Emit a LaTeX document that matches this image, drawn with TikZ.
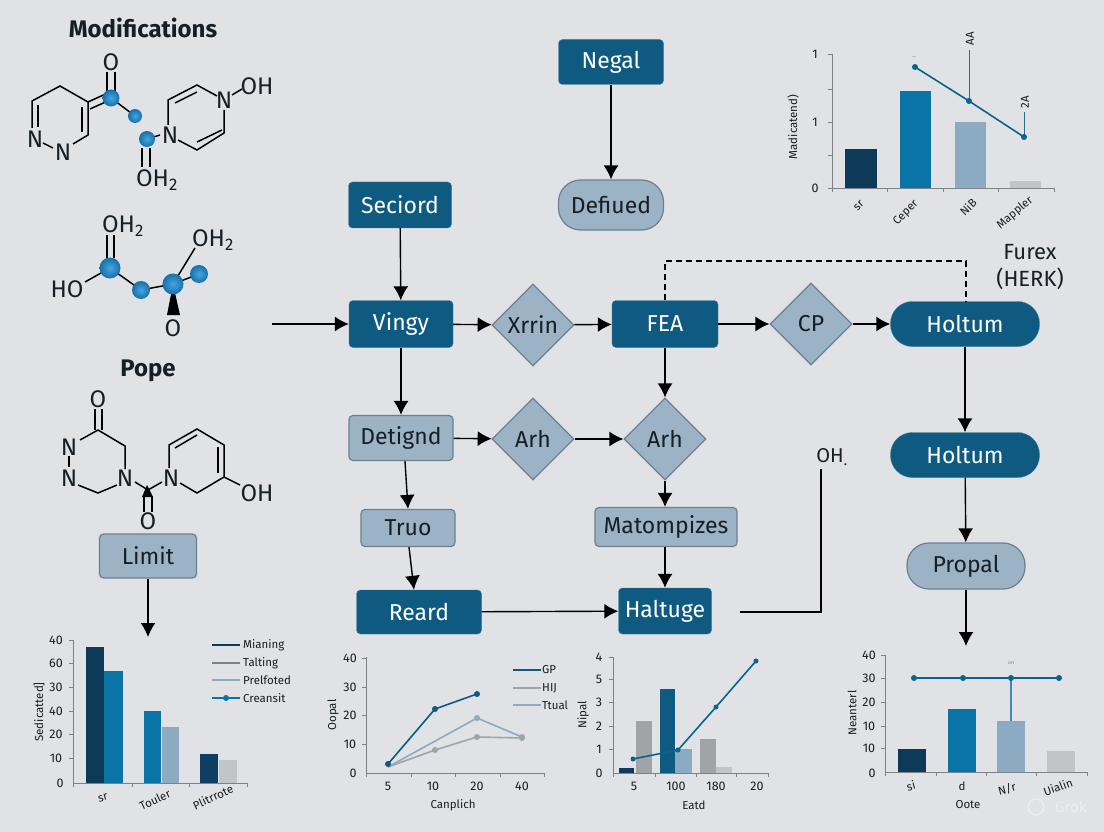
\documentclass[tikz,border=0pt]{standalone}
\usepackage{fontspec}
\setmainfont{Fira Sans}
\usetikzlibrary{arrows.meta}
\usetikzlibrary{shapes.geometric}
\definecolor{paper}{RGB}{224,226,229}
\definecolor{navy}{RGB}{14,58,90}
\definecolor{petrol}{RGB}{14,90,128}
\definecolor{barblue}{RGB}{10,116,166}
\definecolor{steel}{RGB}{156,179,198}
\definecolor{steeledge}{RGB}{108,128,146}
\definecolor{barlight}{RGB}{140,170,194}
\definecolor{bargrey}{RGB}{160,164,168}
\definecolor{barpale}{RGB}{194,197,200}
\definecolor{ink}{RGB}{22,30,38}
\definecolor{axisgrey}{RGB}{125,130,135}
\definecolor{ballblue}{RGB}{22,112,170}
\definecolor{ballbright}{RGB}{70,165,225}
\tikzset{
    darkbox/.style={draw=petrol!80!white, fill=petrol, rounded corners=4pt, inner sep=0pt, text=white, font=\fontsize{23}{27}\selectfont},
    lightbox/.style={draw=steeledge, fill=steel, line width=1.2pt, rounded corners=4pt, inner sep=0pt, text=ink, font=\fontsize{23}{27}\selectfont},
    darkpill/.style={darkbox, rounded corners=22pt},
    lightpill/.style={lightbox, rounded corners=22pt},
    choicebox/.style={diamond, aspect=1, draw=steeledge, fill=steel, line width=1.2pt, inner sep=0pt, minimum width=82pt, minimum height=82pt, text=ink, font=\fontsize{23}{27}\selectfont},
    flowarrow/.style={line width=1.4pt, black, -{Latex[length=14pt,width=15pt]}},
    flowline/.style={line width=1.4pt, black},
    headtext/.style={text=ink, font=\fontsize{24}{28}\selectfont\bfseries},
    atom/.style={text=ink, inner sep=0pt, font=\fontsize{24}{28}\selectfont},
    bond/.style={line width=1.5pt, black},
    ballatom/.style={shading=radial, inner color=ballbright, outer color=ballblue},
    axisline/.style={line width=0.8pt, axisgrey},
    ticklab/.style={text=ink, inner sep=0pt, font=\fontsize{12.5}{15}\selectfont},
    axislab/.style={text=ink, inner sep=0pt, font=\fontsize{11.5}{14}\selectfont},
    legendlab/.style={text=ink, inner sep=0pt, anchor=west, font=\fontsize{11.5}{14}\selectfont},
    dataline/.style={line width=1.6pt, petrol},
}
\begin{document}
\begin{tikzpicture}[x=1pt, y=-1pt]
    \fill[paper] (0,0) rectangle (1104,832);
    \useasboundingbox (0,0) rectangle (1104,832);

    % flow boxes
    \node[darkbox, minimum width=105pt, minimum height=45pt] (negal) at (611,62) {Negal};
    \node[lightpill, minimum width=105pt, minimum height=50pt] (defiued) at (611,205) {Defiued};
    \node[darkbox, minimum width=103pt, minimum height=46pt] (seciord) at (400,205) {Seciord};
    \node[darkbox, minimum width=104pt, minimum height=47pt] (vingy) at (401,324) {Vingy};
    \node[choicebox] (xrrin) at (533,325) {Xrrin};
    \node[darkbox, minimum width=106pt, minimum height=47pt] (fea) at (665,324) {FEA};
    \node[choicebox] (cp) at (811,324) {CP};
    \node[darkpill, minimum width=149pt, minimum height=45pt] (holtumtop) at (965,324) {Holtum};
    \node[darkpill, minimum width=149pt, minimum height=45pt] (holtumlow) at (965,455) {Holtum};
    \node[lightpill, minimum width=118pt, minimum height=46pt] (propal) at (966,566) {Propal};
    \node[lightbox, minimum width=104pt, minimum height=45pt] (detignd) at (401,438) {Detignd};
    \node[choicebox] (arhleft) at (533,439) {Arh};
    \node[choicebox] (arhright) at (665,439) {Arh};
    \node[lightbox, minimum width=94pt, minimum height=37pt] (truo) at (408,528) {Truo};
    \node[lightbox, minimum width=142pt, minimum height=39pt] (matompizes) at (666,527) {Matompizes};
    \node[darkbox, minimum width=125pt, minimum height=44pt] (reard) at (419,612) {Reard};
    \node[darkbox, minimum width=93pt, minimum height=46pt] (haltuge) at (665,611) {Haltuge};
    \node[lightbox, minimum width=97pt, minimum height=44pt] (limit) at (148,556) {Limit};

    % free ends
    \coordinate (flowin) at (272,324);
    \coordinate (propalout) at (966,646);
    \coordinate (limitout) at (148,637);
    \coordinate (haltout) at (740,612);
    \coordinate (dashleft) at (665,261);
    \coordinate (dashright) at (966,261);

    % connectors
    \draw[flowarrow] (negal) -- (defiued);
    \draw[flowarrow] (seciord) -- (vingy);
    \draw[flowarrow] (flowin) -- (vingy);
    \draw[flowarrow] (vingy) -- (xrrin);
    \draw[flowarrow] (xrrin) -- (fea);
    \draw[flowarrow] (fea) -- (cp);
    \draw[flowarrow] (cp) -- (holtumtop);
    \draw[flowarrow] (holtumtop) -- (holtumlow);
    \draw[flowarrow] (holtumlow) -- (propal);
    \draw[flowarrow] (propal) -- (propalout);
    \draw[flowarrow] (vingy) -- (detignd);
    \draw[flowarrow] (detignd) -- (arhleft);
    \draw[flowarrow] (arhleft) -- (arhright);
    \draw[flowarrow] (fea) -- (arhright);
    \draw[flowarrow] (arhright) -- (arhright |- matompizes.north);
    \draw[flowarrow] (matompizes.south -| haltuge) -- (haltuge);
    \draw[flowarrow] ([xshift=4pt]detignd.south) -- (truo.north);
    \draw[flowarrow] ([xshift=1pt]truo.south) -- ([xshift=-5pt]reard.north);
    \draw[flowarrow] (reard) -- (haltuge);
    \draw[flowarrow] (limit) -- (limitout);
    \draw[flowline, dash pattern=on 6pt off 4pt] (fea.north) -- (dashleft) -- (dashright) -- (holtumtop.north -| dashright);

    % headings
    \node[headtext] (modhead) at (143,28) {Modifications};
    \node[headtext] (popehead) at (148,371) {Pope};
    \node[text=ink, font=\fontsize{22}{26}\selectfont] (furex) at (1030,252) {Furex};
    \node[text=ink, font=\fontsize{22}{26}\selectfont] (herk) at (1030,279) {(HERK)};
    \node[text=ink, font=\fontsize{20}{24}\selectfont] (ohlabel) at (832,457) {OH\textsubscript{.}};
    \draw[flowline] (haltout) -- (821,612) -- (ohlabel.south -| 821,0);

    % molecule 1, left ring
    \draw[bond] (32,128) -- (32,101) -- (60,86) -- (88,102) -- (88,135) -- (73,144);
    \draw[bond] (38,105) -- (38,127);
    \draw[bond] (82,107) -- (82,132);
    \draw[bond] (43,143) -- (53,148);
    \draw[bond] (88,102) -- (110,92);
    \draw[bond] (90,109) -- (110,100);
    \draw[bond] (107,72) -- (107,92);
    \draw[bond] (115,72) -- (115,92);
    \draw[bond] (111,98) -- (135,116);
    \node[atom] (mna) at (35,139) {N};
    \node[atom] (mnb) at (63,152) {N};
    \node[atom] (moa) at (111,62) {O};
    % molecule 1, right ring
    \draw[bond] (147,139) -- (160,135);
    \draw[bond] (142,148) -- (142,167);
    \draw[bond] (150,148) -- (150,167);
    \draw[bond] (168,125) -- (168,100) -- (197,85) -- (217,96);
    \draw[bond] (175,103) -- (197,92);
    \draw[bond] (224,110) -- (224,133) -- (197,150) -- (178,140);
    \draw[bond] (197,142) -- (222,130);
    \draw[bond] (232,95) -- (242,89);
    \node[atom] (mnc) at (170,135) {N};
    \node[atom] (mnd) at (224,100) {N};
    \node[atom] (moh) at (257,86) {OH};
    \node[atom] (mohb) at (157,180) {OH\textsubscript{2}};
    \shade[ballatom] (111,98) circle (8.5);
    \shade[ballatom] (135,116) circle (7);
    \shade[ballatom] (147,139) circle (8);

    % molecule 2
    \draw[bond] (107,235) -- (107,258);
    \draw[bond] (114,235) -- (114,258);
    \draw[bond] (85,282) -- (110,268) -- (141,290) -- (173,284) -- (199,274);
    \draw[bond] (173,284) -- (195,248);
    \fill[black] (173,284) -- (167,315) -- (180,315) -- cycle;
    \node[atom] (sohb) at (123,226) {OH\textsubscript{2}};
    \node[atom] (sohc) at (213,240) {OH\textsubscript{2}};
    \node[atom] (sho) at (67,289) {HO};
    \node[atom] (soa) at (173,328) {O};
    \shade[ballatom] (110,268) circle (10.5);
    \shade[ballatom] (141,290) circle (9);
    \shade[ballatom] (173,284) circle (10.5);
    \shade[ballatom] (199,274) circle (9);

    % molecule 3
    \draw[bond] (95,409) -- (95,430);
    \draw[bond] (102,409) -- (102,430);
    \draw[bond] (80,440) -- (98,430) -- (125,446) -- (125,469);
    \draw[bond] (69,456) -- (69,467);
    \draw[bond] (78,485) -- (98,493) -- (117,485);
    \draw[bond] (135,482) -- (148,490) -- (162,482);
    \fill[black] (147,485) -- (142,497) -- (153,497) -- cycle;
    \draw[bond] (144,496) -- (144,512);
    \draw[bond] (152,496) -- (152,512);
    \draw[bond] (169,468) -- (169,445) -- (197,429) -- (224,445) -- (224,477) -- (197,493) -- (180,483);
    \draw[bond] (175,448) -- (197,435);
    \draw[bond] (218,447) -- (218,473);
    \draw[bond] (224,477) -- (240,485);
    \node[atom] (pob) at (98,399) {O};
    \node[atom] (pna) at (69,447) {N};
    \node[atom] (pnb) at (69,478) {N};
    \node[atom] (pnc) at (125,478) {N};
    \node[atom] (pnd) at (171,478) {N};
    \node[atom] (poh) at (257,493) {OH};
    \node[atom] (poc) at (148,521) {O};

    % top chart
    \draw[axisline] (832,54) -- (832,188) -- (1054,188);
    \draw[axisline] (828,54) -- (832,54) (828,89) -- (832,89) (828,122) -- (832,122) (828,155) -- (832,155) (828,188) -- (832,188);
    \draw[axisline] (832,188) -- (832,192) (887,188) -- (887,192) (943,188) -- (943,192) (998,188) -- (998,192) (1054,188) -- (1054,192);
    \fill[navy] (845,149) rectangle (877,188);
    \fill[barblue] (900,91) rectangle (931,188);
    \fill[barlight] (955,122) rectangle (986,188);
    \fill[barpale] (1010,181) rectangle (1041,188);
    \draw[line width=1pt, petrol!80!steel] (969,101) -- (969,50);
    \draw[line width=1pt, petrol!80!steel] (1024,137) -- (1024,112);
    \draw[dataline, barblue!85!black] (915,67) -- (969,101) -- (1024,137);
    \fill[barblue!85!black] (915,67) circle (3);
    \fill[barblue!85!black] (969,101) circle (3);
    \fill[barblue!85!black] (1024,137) circle (3);
    \node[ticklab] (tya) at (815,54) {1};
    \node[ticklab] (tyb) at (815,122) {1};
    \node[ticklab] (tyc) at (815,188) {0};
    \node[axislab, rotate=90] (tylab) at (793,127) {Madicatend)};
    \node[axislab, rotate=45] (txa) at (859,206) {sr};
    \node[axislab, rotate=45] (txb) at (906,213) {Ceper};
    \node[axislab, rotate=45] (txc) at (968,207) {NiB};
    \node[axislab, rotate=40] (txd) at (1015,213) {Mappler};
    \node[axislab, rotate=90] (taa) at (970,39) {AA};
    \node[axislab, rotate=90] (tab) at (1025,102) {2A};
    \node[text=axisgrey, inner sep=0pt, font=\fontsize{5}{6}\selectfont] (tac) at (914,58) {---};

    % bottom left chart
    \draw[axisline] (73,640) -- (73,783) -- (247,783);
    \draw[axisline] (69,640) -- (73,640) (69,663) -- (73,663) (69,687) -- (73,687) (69,711) -- (73,711) (69,734) -- (73,734) (69,758) -- (73,758);
    \draw[axisline] (73,783) -- (73,787) (132,783) -- (132,787) (189,783) -- (189,787) (247,783) -- (247,787);
    \fill[navy] (86,647) rectangle (104,783);
    \fill[barblue] (104,671) rectangle (123,783);
    \fill[barblue] (144,711) rectangle (161,783);
    \fill[barlight] (162,727) rectangle (179,783);
    \fill[navy!85!petrol] (200,754) rectangle (218,783);
    \fill[barpale] (219,760) rectangle (237,783);
    \node[ticklab] (lya) at (56,640) {40};
    \node[ticklab] (lyb) at (56,663) {60};
    \node[ticklab] (lyc) at (56,687) {30};
    \node[ticklab] (lyd) at (56,711) {40};
    \node[ticklab] (lye) at (56,734) {20};
    \node[ticklab] (lyf) at (56,758) {10};
    \node[ticklab] (lyg) at (60,783) {0};
    \node[axislab, rotate=90] (lylab) at (39,712) {Sedicatted]};
    \node[axislab, rotate=15] (lxa) at (103,798) {sr};
    \node[axislab, rotate=25] (lxb) at (155,800) {Touler};
    \node[axislab, rotate=25] (lxc) at (213,797) {Plitrrote};
    \draw[line width=1.6pt, navy] (212,645) -- (240,645);
    \draw[line width=1.6pt, axisgrey] (212,663) -- (240,663);
    \draw[line width=1.6pt, barlight] (212,680) -- (240,680);
    \draw[line width=1.2pt, barblue] (212,698) -- (240,698);
    \fill[barblue] (226,698) circle (3);
    \node[legendlab] (lla) at (243,645) {Mianing};
    \node[legendlab] (llb) at (243,663) {Talting};
    \node[legendlab] (llc) at (243,680) {Prelfoted};
    \node[legendlab] (lld) at (243,698) {Creansit};

    % line chart
    \draw[axisline] (366,657) -- (366,773) -- (544,773);
    \draw[axisline] (362,658) -- (366,658) (362,687) -- (366,687) (362,715) -- (366,715) (362,744) -- (366,744);
    \draw[axisline] (366,773) -- (366,777) (411,773) -- (411,777) (455,773) -- (455,777) (500,773) -- (500,777) (544,773) -- (544,777);
    \draw[line width=1.6pt, barlight] (388,767) -- (477,718) -- (522,737);
    \fill[barlight] (477,718) circle (3);
    \fill[barlight] (522,737) circle (3);
    \draw[line width=1.6pt, bargrey] (388,767) -- (435,750) -- (477,737) -- (522,738);
    \fill[bargrey] (435,750) circle (3);
    \fill[bargrey] (477,737) circle (3);
    \fill[bargrey] (522,738) circle (3);
    \draw[dataline] (388,764) -- (435,709) -- (477,694);
    \fill[petrol] (388,764) circle (3);
    \fill[petrol] (435,709) circle (3);
    \fill[petrol] (477,694) circle (3);
    \node[ticklab] (cya) at (350,658) {40};
    \node[ticklab] (cyb) at (350,687) {30};
    \node[ticklab] (cyc) at (350,715) {20};
    \node[ticklab] (cyd) at (350,744) {10};
    \node[ticklab] (cye) at (353,773) {0};
    \node[ticklab] (cxa) at (388,786) {5};
    \node[ticklab] (cxb) at (433,786) {10};
    \node[ticklab] (cxc) at (477,786) {20};
    \node[ticklab] (cxd) at (522,786) {40};
    \node[axislab] (cxlab) at (453,805) {Canplich};
    \node[axislab, rotate=90] (cylab) at (333,715) {Oopal};
    \draw[line width=1.6pt, petrol] (513,670) -- (541,670);
    \draw[line width=1.6pt, bargrey] (513,688) -- (541,688);
    \draw[line width=1.6pt, barlight] (513,705) -- (541,705);
    \node[legendlab] (cla) at (542,670) {GP};
    \node[legendlab] (clb) at (542,688) {HIJ};
    \node[legendlab] (clc) at (542,705) {Ttual};

    % mixed chart
    \draw[axisline] (613,657) -- (613,773) -- (768,773);
    \draw[axisline] (609,657) -- (613,657) (609,679) -- (613,679) (609,702) -- (613,702) (609,726) -- (613,726) (609,749) -- (613,749);
    \draw[axisline] (613,773) -- (613,777) (655,773) -- (655,777) (696,773) -- (696,777) (736,773) -- (736,777) (768,773) -- (768,777);
    \fill[navy] (619,768) rectangle (634,773);
    \fill[bargrey] (636,721) rectangle (652,773);
    \fill[petrol] (660,689) rectangle (675,773);
    \fill[barlight] (675,749) rectangle (692,773);
    \fill[bargrey] (700,739) rectangle (716,773);
    \fill[barpale] (716,767) rectangle (732,773);
    \draw[dataline, barblue!85!black] (633,759) -- (678,750) -- (716,707) -- (756,661);
    \fill[barblue!85!black] (633,759) circle (2.5);
    \fill[barblue!85!black] (678,750) circle (2.5);
    \fill[barblue!85!black] (716,707) circle (2.5);
    \fill[barblue!85!black] (756,661) circle (2.5);
    \node[ticklab] (mya) at (599,657) {4};
    \node[ticklab] (myb) at (599,679) {5};
    \node[ticklab] (myc) at (599,702) {3};
    \node[ticklab] (myd) at (599,726) {2};
    \node[ticklab] (mye) at (599,749) {1};
    \node[ticklab] (myf) at (599,773) {0};
    \node[ticklab] (mxa) at (634,786) {5};
    \node[ticklab] (mxb) at (676,786) {100};
    \node[ticklab] (mxc) at (716,786) {180};
    \node[ticklab] (mxd) at (757,786) {20};
    \node[axislab] (mxlab) at (694,805) {Eatd};
    \node[axislab, rotate=90] (mylab) at (583,715) {Nipal};

    % bottom right chart
    \draw[axisline] (885,655) -- (885,772) -- (1087,772);
    \draw[axisline] (881,655) -- (885,655) (881,678) -- (885,678) (881,702) -- (885,702) (881,726) -- (885,726) (881,748) -- (885,748);
    \draw[axisline] (885,772) -- (885,776) (936,772) -- (936,776) (986,772) -- (986,776) (1036,772) -- (1036,776) (1087,772) -- (1087,776);
    \fill[navy] (898,749) rectangle (926,772);
    \fill[barblue] (948,709) rectangle (976,772);
    \fill[barlight] (997,721) rectangle (1025,772);
    \fill[barpale] (1047,751) rectangle (1075,772);
    \draw[line width=1.2pt, barblue!60!barlight] (1011,678) -- (1011,721);
    \draw[dataline, barblue!85!black] (914,678) -- (1059,678);
    \fill[barblue!85!black] (914,678) circle (3);
    \fill[barblue!85!black] (963,678) circle (3);
    \fill[barblue!85!black] (1011,678) circle (3);
    \fill[barblue!85!black] (1059,678) circle (3);
    \node[ticklab] (rya) at (869,655) {40};
    \node[ticklab] (ryb) at (869,678) {30};
    \node[ticklab] (ryc) at (869,702) {20};
    \node[ticklab] (ryd) at (869,726) {10};
    \node[ticklab] (rye) at (869,748) {10};
    \node[ticklab] (ryf) at (872,773) {0};
    \node[axislab, rotate=90] (rylab) at (852,713) {Neanterl};
    \node[axislab, rotate=15] (rxa) at (911,786) {si};
    \node[axislab] (rxb) at (962,786) {d};
    \node[axislab, rotate=15] (rxc) at (1007,789) {N/r};
    \node[axislab, rotate=20] (rxd) at (1058,787) {Uialin};
    \node[axislab] (rxlab) at (968,805) {Oote};
    \node[text=axisgrey, inner sep=0pt, font=\fontsize{5}{6}\selectfont] (rtop) at (1011,663) {on};
    \node[text=white!40!paper, inner sep=0pt, font=\fontsize{15}{18}\selectfont] (grok) at (1071,807) {Grok};
    \draw[white!40!paper, line width=1.2pt] (1036,807) circle (8);
\end{tikzpicture}
\end{document}
